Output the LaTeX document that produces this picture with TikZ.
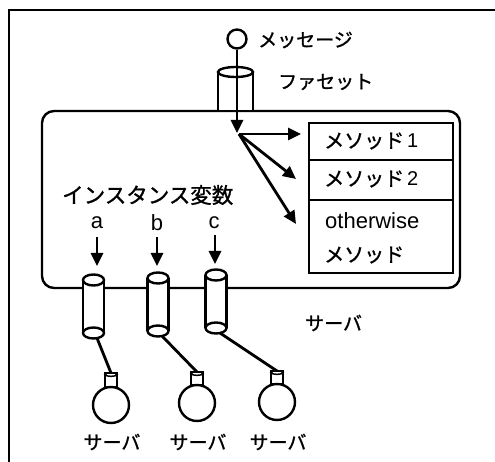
\documentclass[tikz,border=0pt]{standalone}
\usepackage{fontspec}
\setmainfont{Liberation Sans}
\newfontfamily\jp{Noto Sans CJK JP}[FakeBold=1.2]
\usetikzlibrary{arrows.meta}
\begin{document}
\begin{tikzpicture}[x=1pt,y=-1pt,
  ln/.style={line width=2.4pt},
  arr/.style={line width=2.8pt,-{Triangle[length=13pt,width=12pt]}},
  lbl/.style={inner sep=0pt,anchor=west},
  jpa/.style={font=\jp\fontsize{19}{19}\selectfont},
  jpb/.style={font=\jp\fontsize{20}{20}\selectfont},
  jpc/.style={font=\jp\fontsize{21.5}{21.5}\selectfont},
  lat/.style={font=\fontsize{22}{22}\selectfont},
  methbox/.style={draw,ln,anchor=north west,inner sep=0pt,minimum width=144pt},
]
\useasboundingbox (0,0) rectangle (495,462);
% frame
\draw[line width=2.6pt] (495,10) -- (9,10) -- (9,462);

% server box
\draw[ln,rounded corners=12pt] (42,111) rectangle (460,288);
\node[coordinate] (server) at (251,200) {};

% facet cylinder
\fill[white] (218,72) rectangle (253,110);
\draw[ln] (218,72) -- (218,111);
\draw[ln] (253,72) -- (253,111);
\draw[ln,fill=white] (235.5,72) ellipse [x radius=17.5,y radius=5];
\node[lbl,jpa] (facet) at (278,82) {ファセット};

% message
\node[circle,draw,ln,minimum size=19pt,inner sep=0pt] (msg) at (237,39) {};
\node[lbl,jpa] (msgtxt) at (258,40) {メッセージ};
\coordinate (junc) at (237,133);
\draw[arr] (msg) -- (junc);

% methods
\node[methbox,minimum height=37pt] (m1) at (308,122) {};
\node[methbox,minimum height=40pt] (m2) at (308,159) {};
\node[methbox,minimum height=73pt] (m3) at (308,199) {};
\node[lbl,jpb] (m1t) at (324,141) {メソッド\hspace{3pt}{\rmfamily 1}};
\node[lbl,jpb] (m2t) at (324,179) {メソッド\hspace{3pt}{\rmfamily 2}};
\node[lbl,lat] (m3a) at (325,221) {otherwise};
\node[lbl,jpb] (m3b) at (324,255) {メソッド};

\coordinate (j0) at (239,134);
\coordinate (t1) at (301,134);
\coordinate (t2) at (296,179);
\coordinate (t3) at (296,224);
\draw[arr] (j0) -- (t1);
\draw[arr] (j0) -- (t2);
\draw[arr] (j0) -- (t3);

% instance variables
\node[lbl,jpc] (iv) at (62,195) {インスタンス変数};
\node[lat,inner sep=0pt] (va) at (97,223) {a};
\node[lat,inner sep=0pt] (vb) at (157,223) {b};
\node[lat,inner sep=0pt] (vc) at (214,223) {c};
\coordinate (ta) at (97,266);
\coordinate (tb) at (157,266);
\coordinate (tc) at (215,264);
\draw[arr] (97,237) -- (ta);
\draw[arr] (157,237) -- (tb);
\draw[arr] (215,235) -- (tc);

% bottom cylinders
\foreach \cx/\ty/\by in {93.5/280/333, 158/278/331, 216/275/328}{
  \fill[white] (\cx-10.5,\ty) rectangle (\cx+10.5,\by);
  \draw[ln] (\cx-10.5,\ty) -- (\cx-10.5,\by);
  \draw[ln] (\cx+10.5,\ty) -- (\cx+10.5,\by);
  \draw[ln,fill=white] (\cx,\by) ellipse [x radius=10.5,y radius=5.5];
  \draw[ln,fill=white] (\cx,\ty) ellipse [x radius=10.5,y radius=5.5];
}
\node[lbl,jpa] (srv) at (305,323) {サーバ};

% bulbs
\foreach \n/\cx/\cy/\nt in {a/111/405/373, b/197/403/372, c/277/402/371}{
  \draw[ln,fill=white] (\cx-6,\nt) rectangle (\cx+6,\cy-18);
  \draw[line width=1.5pt] (\cx,\nt+1.5) ellipse [x radius=6,y radius=1.8];
  \draw[ln] (\cx,\cy) circle [radius=18];
  \node[jpa,inner sep=0pt] (s\n) at (\cx+1,442) {サーバ};
  \coordinate (n\n) at (\cx,\nt);
}
\coordinate (ca) at (97,338);
\coordinate (cb) at (162,336);
\coordinate (cc) at (220,333);
\draw[line width=2.8pt] (ca) -- (na);
\draw[line width=2.8pt] (cb) -- (nb);
\draw[line width=2.8pt] (cc) -- (nc);
\end{tikzpicture}
\end{document}
